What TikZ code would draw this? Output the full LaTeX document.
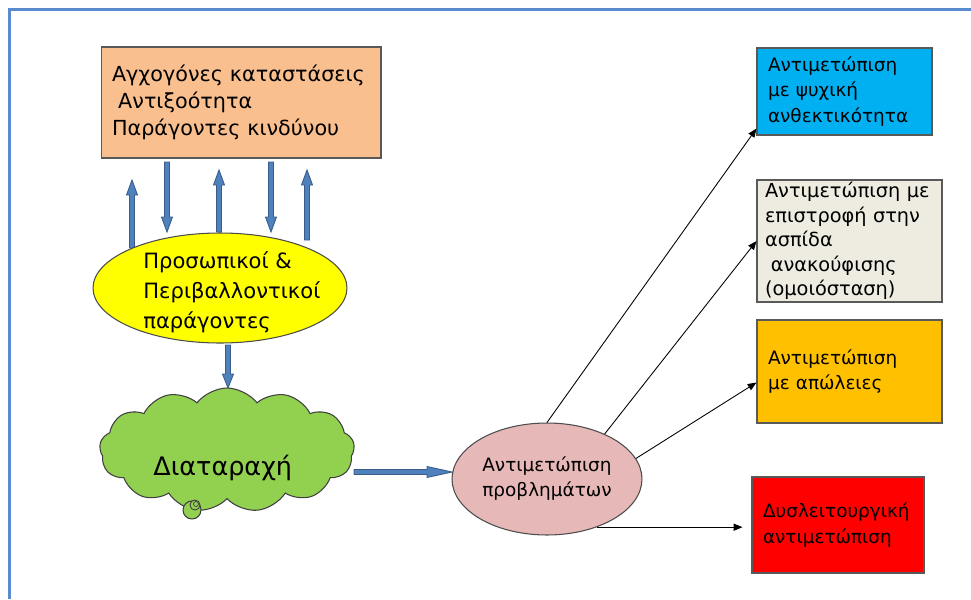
\documentclass[tikz,border=0pt]{standalone}
\usepackage{fontspec}
\setmainfont{DejaVu Sans}
\usetikzlibrary{shapes.geometric,shapes.symbols,arrows.meta,positioning,calc}

\definecolor{framebl}{HTML}{5A8AD0}
\definecolor{topor}{HTML}{FABF8F}
\definecolor{persyel}{HTML}{FFFF00}
\definecolor{cloudgr}{HTML}{92D050}
\definecolor{copepk}{HTML}{E6B9B8}
\definecolor{resbl}{HTML}{00B0F0}
\definecolor{homgr}{HTML}{EEECE1}
\definecolor{lossor}{HTML}{FFC000}
\definecolor{dysred}{HTML}{FF0000}
\definecolor{arrfill}{HTML}{4F81BD}
\definecolor{arrline}{HTML}{385D8A}

\tikzset{
  box/.style={rectangle, draw=black!65, line width=0.6pt, align=left, inner ysep=0pt},
  rbox/.style={box, font=\fontsize{10.5}{14.5}\selectfont, inner xsep=0.22cm},
  thinarr/.style={-{Triangle[length=5pt,width=4pt]}, line width=0.5pt},
  pics/blockarr/.style 2 args={code={
    \draw[fill=arrfill, draw=arrline, line width=0.5pt]
      (0,-2.5) -- (#1-#2,-2.5) -- (#1-#2,-5.5) -- (#1,0) -- (#1-#2,5.5) -- (#1-#2,2.5) -- (0,2.5) -- cycle;
  }}
}

\begin{document}
\begin{tikzpicture}[x=0.02cm,y=-0.02cm]
  \useasboundingbox (0,0) rectangle (971,599);
  \draw[framebl, line width=1.2pt] (9.5,599) -- (9.5,9.5) -- (971,9.5);

  % left column
  \node[box, fill=topor, minimum width=5.6cm, minimum height=2.22cm, inner xsep=0.22cm,
        text width=5.16cm, font=\fontsize{11.8}{15.3}\selectfont] (top) at (241,102.5)
    {Αγχογόνες καταστάσεις\\\hspace{0.3em}Αντιξοότητα\\Παράγοντες κινδύνου};

  \pic[rotate=90]  at (132,248) {blockarr={68}{15}};
  \pic[rotate=-90] at (167,162) {blockarr={70}{15}};
  \pic[rotate=90]  at (219,232) {blockarr={62}{15}};
  \pic[rotate=-90] at (271,162) {blockarr={70}{15}};

  \node[ellipse, draw=black!70, line width=0.6pt, fill=persyel, minimum width=5.08cm,
        minimum height=2.2cm, inner sep=0pt] (pers) at (220,288) {};
  \node[anchor=west, align=left, inner sep=0pt, font=\fontsize{12}{17}\selectfont] (perstxt)
    at (143,292) {Προσωπικοί \&\\Περιβαλλοντικοί\\παράγοντες};
  \pic[rotate=90]  at (307,240) {blockarr={70}{15}};

  \pic[rotate=-90] at (228,345) {blockarr={43}{14}};

  \node[cloud, cloud puffs=13, cloud puff arc=105, aspect=2.1, draw=black!75, line width=0.6pt,
        fill=cloudgr, minimum width=5.1cm, minimum height=2.48cm, inner sep=0pt] (dist) at (227,450) {};
  \node[anchor=west, inner sep=0pt, font=\fontsize{14.5}{17}\selectfont] (disttxt)
    at (153,468) {Διαταραχή};
  \draw[draw=black!75, line width=0.6pt, fill=cloudgr] (192,510) circle[radius=9];
  \draw[draw=black!75, line width=0.5pt, fill=cloudgr] (195,505) circle[radius=5];
  \draw[draw=black!75, line width=0.4pt] (196,504) circle[radius=2.5];

  \pic at (354,472) {blockarr={98}{25}};

  % coping
  \node[ellipse, draw=black!70, line width=0.6pt, fill=copepk, minimum width=3.8cm,
        minimum height=2.24cm, inner sep=0pt, align=center,
        font=\fontsize{10.5}{14.2}\selectfont] (cope) at (547,479)
    {Αντιμετώπιση\\προβλημάτων};

  \node[rbox, fill=resbl, minimum width=3.5cm, minimum height=1.74cm, text width=3.06cm]
    (ant1) at (844.5,91.5) {Αντιμετώπιση\\με ψυχική\\ανθεκτικότητα};
  \node[rbox, fill=homgr, minimum width=3.7cm, minimum height=2.44cm, text width=3.38cm,
        inner xsep=0.16cm, font=\fontsize{11}{14}\selectfont]
    (ant2) at (849.5,241) {Αντιμετώπιση με\\επιστροφή στην\\ασπίδα\\\hspace{0.3em}ανακούφισης\\(ομοιόσταση)};
  \node[rbox, fill=lossor, minimum width=3.7cm, minimum height=2.06cm, text width=3.26cm]
    (ant3) at (849.5,371.5) {Αντιμετώπιση\\με απώλειες};
  \node[rbox, fill=dysred, minimum width=3.44cm, minimum height=1.92cm, text width=3.0cm]
    (dysl) at (838,525) {Δυσλειτουργική\\αντιμετώπιση};

  \draw[thinarr] (cope.north) -- ($(ant1.south west)+(0,-7)$);
  \draw[thinarr] (cope.38) -- (ant2.west);
  \draw[thinarr] (cope.13) -- ($(ant3.west)+(0,11)$);
  \draw[thinarr, shorten >=0.18cm] (cope.-44) -- (cope.-44 -| dysl.west);
\end{tikzpicture}
\end{document}
